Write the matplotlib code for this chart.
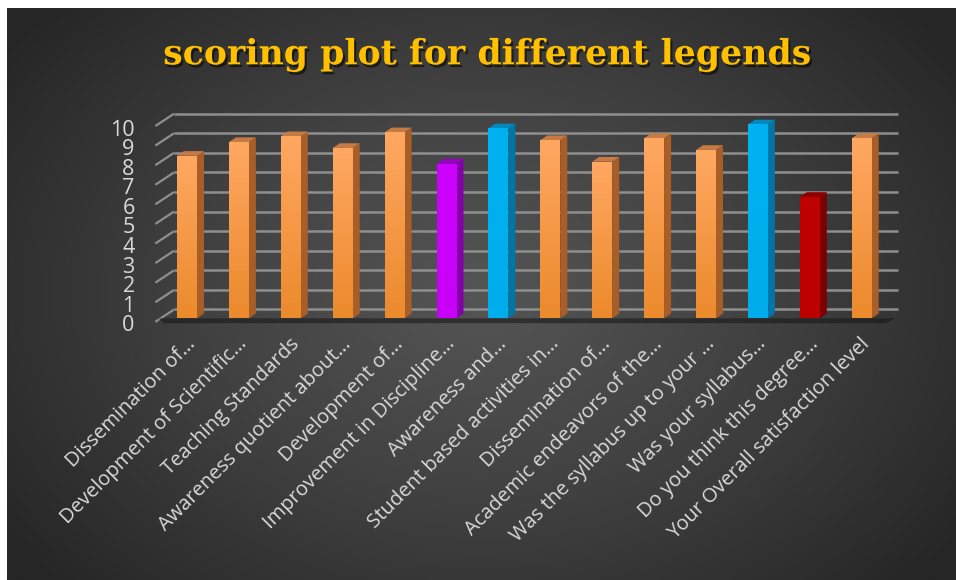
import numpy as np
import matplotlib
matplotlib.use("Agg")
import matplotlib.pyplot as plt
from matplotlib.patches import Polygon
from matplotlib.colors import LinearSegmentedColormap
import matplotlib.patheffects as pe
import matplotlib.transforms as mtransforms

# ---------------- data ----------------
categories = [
    "Dissemination of…",
    "Development of Scientific…",
    "Teaching Standards",
    "Awareness quotient about…",
    "Development of…",
    "Improvement in Discipline…",
    "Awareness and…",
    "Student based activities in…",
    "Dissemination of…",
    "Academic endeavors of the…",
    "Was the syllabus up to your …",
    "Was your syllabus…",
    "Do you think this degree…",
    "Your Overall satisfaction level",
]
scores = [8.3, 9.0, 9.3, 8.7, 9.5, 7.9, 9.7, 9.1, 8.0, 9.2, 8.6, 9.9, 6.2, 9.2]
bar_groups = ["orange", "orange", "orange", "orange", "orange", "purple", "blue",
              "orange", "orange", "orange", "orange", "blue", "red", "orange"]
y_ticks = list(range(0, 11))
title = "scoring plot for different legends"

# ---------------- styles ----------------
palette = {
    "orange": {"top": "#FFA862", "bottom": "#EC8A2C", "side": "#A85E26", "cap": "#C67A44"},
    "purple": {"top": "#CC00FF", "bottom": "#C800F8", "side": "#8400A8", "cap": "#9A00C4"},
    "blue":   {"top": "#00B2F2", "bottom": "#00ADEC", "side": "#0075A6", "cap": "#0089BE"},
    "red":    {"top": "#C00000", "bottom": "#BC0000", "side": "#7C0000", "cap": "#8E0000"},
}
W, H = 956, 580
fig = plt.figure(figsize=(W / 100, H / 100), dpi=100, facecolor="white")

# background panel with radial gradient
bg = fig.add_axes([7 / W, 0, 1 - 7 / W, 1 - 8 / H])
bg.set_axis_off()
gy, gx = np.mgrid[0:1:300j, 0:1:500j]
r = np.sqrt(((gx - 0.50) / 0.62) ** 2 + ((gy - 0.50) / 0.75) ** 2)
r = np.clip(r, 0, 1)
bgcmap = LinearSegmentedColormap.from_list("bg", ["#555555", "#404040", "#262626"])
bg.imshow(r, cmap=bgcmap, aspect="auto", extent=[0, 1, 0, 1], interpolation="bilinear")
bg.set_xlim(0, 1)
bg.set_ylim(0, 1)

# main axes: x -0.5..13.5, y 0..10
x0, x1 = 161.05, 887.65
y0, y1 = 318.3, 122.5
ax = fig.add_axes([x0 / W, (H - y0) / H, (x1 - x0) / W, (y0 - y1) / H])
ax.set_facecolor("none")
for s in ax.spines.values():
    s.set_visible(False)

# pseudo-3D geometry (data units)
bw = 0.385
ddx, ddy = 0.135, 0.24          # bar depth
back_dx, back_dy = 0.25, 0.45   # back wall offset
front_dx, front_dy = -0.11, -0.18
wall_right = len(scores) - 0.5 + 0.2
grid_col = "#8f8f8f"

for v in y_ticks:
    ax.plot([-0.5 + front_dx, -0.5 + back_dx],
            [v + front_dy, v + back_dy], color=grid_col, lw=1.6, clip_on=False, zorder=1,
            solid_capstyle="butt")
    ax.plot([-0.5 + back_dx, wall_right], [v + back_dy, v + back_dy],
            color=grid_col, lw=1.8, clip_on=False, zorder=1, solid_capstyle="butt")

# floor shadow
floor = Polygon([(-0.55, 0.0), (wall_right - 0.05, 0.0), (wall_right - 0.25, -0.25), (-0.45, -0.25)],
                closed=True, facecolor="#151515", edgecolor="none", alpha=0.55, zorder=2,
                clip_on=False)
ax.add_patch(floor)

xs = np.arange(len(scores))
bars = ax.bar(xs, scores, width=bw, color="none", edgecolor="none", zorder=4)
for xi, v, grp, rect in zip(xs, scores, bar_groups, bars):
    c = palette[grp]
    right = xi + bw / 2
    left = xi - bw / 2
    side = Polygon([(right, 0), (right + ddx, ddy), (right + ddx, v + ddy), (right, v)],
                   closed=True, facecolor=c["side"], edgecolor="none", zorder=3, clip_on=False)
    cap = Polygon([(left, v), (right, v), (right + ddx, v + ddy), (left + ddx, v + ddy)],
                  closed=True, facecolor=c["cap"], edgecolor="none", zorder=3, clip_on=False)
    ax.add_patch(side)
    ax.add_patch(cap)
    cmap = LinearSegmentedColormap.from_list("b" + grp, [c["bottom"], c["top"]])
    grad = np.linspace(0, 1, 100).reshape(-1, 1)
    im = ax.imshow(grad, cmap=cmap, origin="lower", aspect="auto",
                   extent=[left, right, 0, v], zorder=4, interpolation="bilinear")
    im.set_clip_path(rect)
ax.set_xlim(-0.5, len(scores) - 0.5)
ax.set_ylim(0, 10)

# ticks
ax.set_yticks(y_ticks)
ax.set_yticklabels([str(t) for t in y_ticks], fontsize=15.5, color="#d9d9d9", family="Open Sans")
ax.tick_params(axis="y", length=0, pad=19)
off = mtransforms.ScaledTranslation(0, -5 / 100, fig.dpi_scale_trans)
for lab in ax.get_yticklabels():
    lab.set_transform(lab.get_transform() + off)

ax.set_xticks(xs)
ax.set_xticklabels(categories, rotation=45, ha="right", va="baseline", rotation_mode="anchor",
                   fontsize=14.5, color="#d9d9d9", family="Open Sans")
ax.tick_params(axis="x", length=0, pad=19)
xoff = mtransforms.ScaledTranslation(9 / 100, 0, fig.dpi_scale_trans)
for lab in ax.get_xticklabels():
    lab.set_transform(lab.get_transform() + xoff)

# title
fig.text(487 / W, 1 - 64.3 / H, title, ha="center", va="baseline",
         fontsize=25, fontweight="bold", family="DejaVu Serif", color="#FFC000",
         path_effects=[pe.withSimplePatchShadow(offset=(1.5, -2), shadow_rgbFace="black", alpha=0.55)])

fig.savefig("out.png", dpi=100, facecolor="white")
